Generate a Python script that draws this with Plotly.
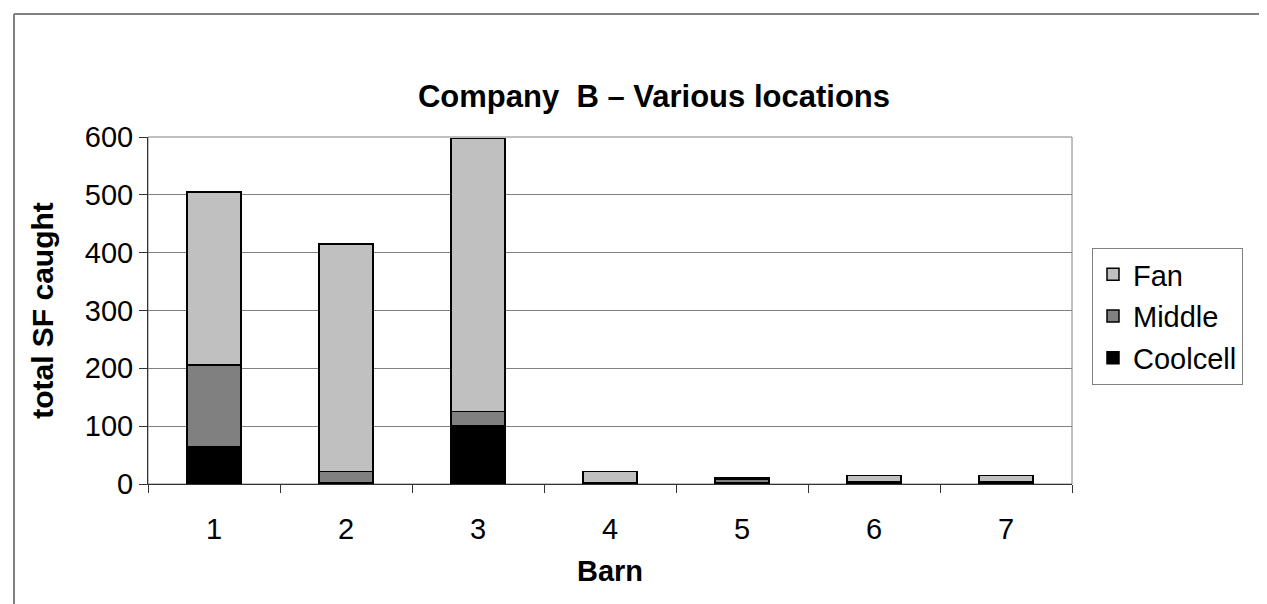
import plotly.graph_objects as go

barns = ["1", "2", "3", "4", "5", "6", "7"]
coolcell = [64, 3, 100, 2, 3, 3, 3]
middle = [142, 19, 25, 1, 6, 1, 1]
fan = [299, 393, 472, 19, 2, 11, 11]

series_names = ["Coolcell", "Middle", "Fan"]
series_values = [coolcell, middle, fan]
series_colors = ["#000000", "#808080", "#C0C0C0"]
legend_ranks = [3, 2, 1]

FONT = "Liberation Sans, Arial, sans-serif"

fig = go.Figure()
for name, vals, col, rk in zip(series_names, series_values, series_colors, legend_ranks):
    fig.add_trace(go.Bar(
        x=barns, y=vals, name=name, legendgroup=name, legendrank=rk,
        marker=dict(color=col, line=dict(color="#000000", width=1.5)),
        width=0.41,
    ))

W, H = 1267, 604
L, R, T, B = 140, 203, 129, 128
pw, ph = W - L - R, H - T - B

def px(xp):
    return (xp - L) / pw

def py(yp):
    return (H - B - yp) / ph

fig.update_layout(
    width=W, height=H,
    margin=dict(l=L, r=R, t=T, b=B, autoexpand=False),
    paper_bgcolor="white", plot_bgcolor="white",
    barmode="stack", bargap=0.59,
    font=dict(family=FONT, size=29, color="#000000"),
    title=dict(text="<b>Company  B – Various locations</b>",
               font=dict(size=31, family=FONT, color="#000000"),
               x=646 / W, xref="container", xanchor="center",
               y=1 - 88 / H, yref="container", yanchor="middle"),
    showlegend=True,
    legend=dict(x=px(1084), y=py(240), xanchor="left", yanchor="top",
                bordercolor="#808080", borderwidth=1, bgcolor="white",
                traceorder="grouped", tracegroupgap=1,
                font=dict(size=29, family=FONT)),
    xaxis=dict(type="category", categoryorder="array", categoryarray=barns,
               range=[-0.5, 6.5], tickson="boundaries",
               ticks="outside", ticklen=8, tickcolor="#333333",
               showline=True, linecolor="#333333", linewidth=1,
               showgrid=False, zeroline=False, ticklabelstandoff=19,
               title=dict(text="<b>Barn</b>", standoff=16,
                          font=dict(size=29, family=FONT))),
    yaxis=dict(range=[0, 600], dtick=100, tick0=0,
               ticks="outside", ticklen=8, tickcolor="#333333",
               showline=True, linecolor="#333333", linewidth=1,
               showgrid=True, gridcolor="#808080", gridwidth=1,
               zeroline=False,
               title=dict(text="<b>total SF caught</b>", standoff=22,
                          font=dict(size=30, family=FONT))),
    shapes=[
        dict(type="rect", xref="paper", yref="paper", x0=0, x1=1, y0=0, y1=1,
             line=dict(color="#808080", width=1), layer="below"),
        dict(type="line", xref="paper", yref="paper",
             x0=px(6), x1=px(6), y0=py(6), y1=py(900),
             line=dict(color="#808080", width=2), layer="below"),
        dict(type="line", xref="paper", yref="paper",
             x0=px(6), x1=px(3000), y0=py(6), y1=py(6),
             line=dict(color="#808080", width=2), layer="below"),
    ],
)

fig.write_html("out.html")
